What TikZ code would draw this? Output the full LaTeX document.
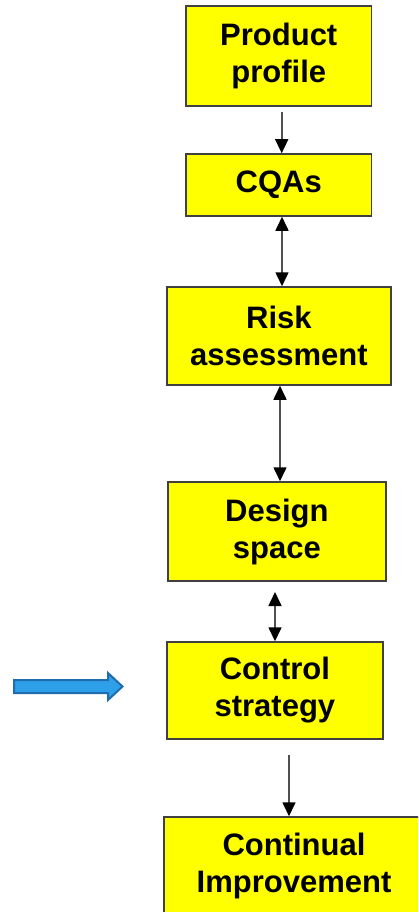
\documentclass[tikz,border=0pt]{standalone}
\usepackage{fontspec}
\setmainfont{Liberation Sans}
\usetikzlibrary{arrows.meta}
\definecolor{boxyellow}{HTML}{FFFF00}
\definecolor{boxedge}{HTML}{404040}
\definecolor{arrline}{HTML}{505050}
\definecolor{bluefill}{HTML}{2EA0EA}
\definecolor{blueedge}{HTML}{1F6DAD}
\begin{document}
\begin{tikzpicture}[x=1pt,y=-1pt,
  stepbox/.style={draw=boxedge, line width=1.5pt, fill=boxyellow, inner sep=0pt,
    align=center, font=\fontsize{31}{37}\selectfont\bfseries},
  arr/.style={draw=arrline, line width=1.6pt, -{Triangle[width=13pt,length=14pt,color=black]}},
  darr/.style={draw=arrline, line width=1.6pt, {Triangle[width=13pt,length=14pt,color=black]}-{Triangle[width=13pt,length=14pt,color=black]}},
  bluearrow/.style={fill=bluefill, draw=blueedge, line width=2pt, line join=miter}]
\clip (0,0) rectangle (418,912);
\fill[white] (0,0) rectangle (418,912);
\node[stepbox, minimum width=185.5pt, minimum height=100pt] (n1) at (278.75,56) {Product\\profile};
\node[stepbox, minimum width=185.5pt, minimum height=62pt] (n2) at (278.75,185) {CQAs};
\node[stepbox, minimum width=224.3pt, minimum height=98pt] (n3) at (278.9,336) {Risk\\assessment};
\node[stepbox, minimum width=217.7pt, minimum height=99pt] (n4) at (276.9,531.5) {Design\\space};
\node[stepbox, minimum width=216.3pt, minimum height=97pt] (n5) at (274.9,690.5) {Control\\strategy};
\node[stepbox, minimum width=260pt, minimum height=97pt] (n6) at (294,865.5) {Continual\\Improvement};
% connectors
\coordinate (s1) at (281.7,112);
\draw[arr] (s1) -- (s1 |- n2.north);
\coordinate (s2) at (282,216);
\draw[darr] (s2 |- n2.south) -- (s2 |- n3.north);
\coordinate (s3) at (280,385);
\draw[darr] (s3 |- n3.south) -- (s3 |- n4.north);
\coordinate (s4) at (275,592);
\draw[darr] (s4) -- (s4 |- n5.north);
\coordinate (s5) at (289,755);
\draw[arr] (s5) -- (s5 |- n6.north);
% blue arrow
\draw[bluearrow] (14,680) -- (108,680) -- (108,673) -- (122.5,686.5) -- (108,700) -- (108,693) -- (14,693) -- cycle;
\end{tikzpicture}
\end{document}
